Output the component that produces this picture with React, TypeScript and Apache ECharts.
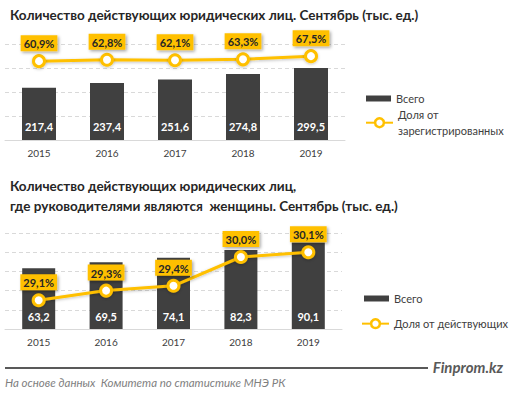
import React, { useEffect, useRef } from "react";
import * as echarts from "echarts";

const years = ["2015", "2016", "2017", "2018", "2019"];
const totalEntities = [217.4, 237.4, 251.6, 274.8, 299.5];
const shareRegistered = [60.9, 62.8, 62.1, 63.3, 67.5];
const womenLed = [63.2, 69.5, 74.1, 82.3, 90.1];
const shareActive = [29.1, 29.3, 29.4, 30.0, 30.1];

const title1 = "Количество действующих юридических лиц. Сентябрь (тыс. ед.)";
const title2 = "Количество действующих юридических лиц,\nгде руководителями являются  женщины. Сентябрь (тыс. ед.)";
const barName = "Всего";
const lineName1 = "Доля от зарегистрированных";
const lineName2 = "Доля от действующих";
const brand = "Finprom.kz";
const source = "На основе данных  Комитета по статистике МНЭ РК";

const FONT = "Lato, 'Noto Sans', sans-serif";
const GOLD = "#FFC000";
const DARK = "#404040";

const fmt = (v: number) => v.toFixed(1).replace(".", ",");

export default function App() {
  const ref = useRef<HTMLDivElement>(null);
  useEffect(() => {
    if (!ref.current) return;
    const chart = echarts.init(ref.current, null, { renderer: "svg" });

    const xAxisBase = (gridIndex: number) => ({
      type: "category" as const,
      gridIndex,
      data: years,
      axisTick: { show: false },
      axisLine: { lineStyle: { color: "#D9D9D9", width: 1 } },
      axisLabel: { color: DARK, fontSize: 10, fontFamily: FONT, margin: 8 },
    });
    const splitDashed = { show: true, lineStyle: { color: "#D9D9D9", type: [4, 3] as any, width: 1 } };

    const barLabel = (dist: number) => ({
      show: true,
      position: "insideBottom" as const,
      distance: dist,
      color: "#FFFFFF",
      fontWeight: "bold" as const,
      fontSize: 11,
      fontFamily: FONT,
      formatter: (p: any) => fmt(p.value),
    });
    const lineLabel = {
      show: true,
      position: "top" as const,
      distance: 3,
      color: "#262626",
      fontWeight: "bold" as const,
      fontSize: 11,
      fontFamily: FONT,
      backgroundColor: GOLD,
      padding: [3, 3, 2, 3],
      shadowColor: "rgba(0,0,0,0.35)",
      shadowBlur: 3,
      shadowOffsetX: 1.5,
      shadowOffsetY: 1.5,
      formatter: (p: any) => fmt(p.value) + "%",
    };
    const lineSeries = (name: string, data: number[], xi: number, yi: number) => ({
      name,
      type: "line" as const,
      xAxisIndex: xi,
      yAxisIndex: yi,
      data,
      symbol: "circle",
      symbolSize: 11,
      lineStyle: { color: GOLD, width: 3, shadowColor: "rgba(0,0,0,0.25)", shadowBlur: 3, shadowOffsetY: 1 },
      itemStyle: { color: "#FFFFFF", borderColor: GOLD, borderWidth: 3, shadowColor: "rgba(0,0,0,0.25)", shadowBlur: 3, shadowOffsetY: 1 },
      label: lineLabel,
      z: 3,
    });
    const legendText = { color: DARK, fontSize: 11, fontFamily: FONT };

    chart.setOption({
      animation: false,
      backgroundColor: "#FFFFFF",
      title: [
        {
          text: title1,
          left: 5,
          top: 3,
          textStyle: { fontSize: 13.5, fontWeight: "bold", color: "#262626", fontFamily: FONT },
        },
        {
          text: title2,
          left: 5,
          top: 171,
          textStyle: { fontSize: 13.5, fontWeight: "bold", color: "#262626", fontFamily: FONT, lineHeight: 20 },
        },
      ],
      grid: [
        { left: 5, top: 44, width: 340, height: 96 },
        { left: 5, top: 233, width: 337, height: 96 },
      ],
      xAxis: [xAxisBase(0), xAxisBase(1)],
      yAxis: [
        { type: "value", gridIndex: 0, min: 0, max: 400, interval: 100, axisLabel: { show: false }, axisLine: { show: false }, axisTick: { show: false }, splitLine: splitDashed },
        { type: "value", gridIndex: 0, min: -43, max: 83.5, show: false },
        { type: "value", gridIndex: 1, min: 0, max: 100, interval: 20, axisLabel: { show: false }, axisLine: { show: false }, axisTick: { show: false }, splitLine: splitDashed },
        { type: "value", gridIndex: 1, min: 28.5, max: 30.5, show: false },
      ],
      legend: [
        { data: [barName], left: 366, top: 93, padding: 0, itemWidth: 25, itemHeight: 6, icon: "rect", selectedMode: false, textStyle: legendText },
        {
          data: [lineName1], left: 365, top: 98.7, padding: 0, itemWidth: 27, itemHeight: 11, selectedMode: false,
          itemStyle: { borderWidth: 2.5 },
          formatter: () => "Доля от\nзарегистрированных",
          textStyle: { ...legendText, lineHeight: 16, padding: [16, 0, 0, 0] },
        },
        { data: [barName], left: 364, top: 293, padding: 0, itemWidth: 25, itemHeight: 6, icon: "rect", selectedMode: false, textStyle: legendText },
        { data: [lineName2], left: 361, top: 318, padding: 0, itemWidth: 27, itemHeight: 11, selectedMode: false, itemStyle: { borderWidth: 2.5 }, textStyle: legendText },
      ],
      series: [
        { name: barName, type: "bar", xAxisIndex: 0, yAxisIndex: 0, data: totalEntities, barWidth: 34, itemStyle: { color: DARK }, label: barLabel(8) },
        lineSeries(lineName1, shareRegistered, 0, 1),
        { name: barName, type: "bar", xAxisIndex: 1, yAxisIndex: 2, data: womenLed, barWidth: 33, itemStyle: { color: DARK }, label: barLabel(7) },
        lineSeries(lineName2, shareActive, 1, 3),
      ],
      graphic: [
        { type: "line", shape: { x1: 5, y1: 368, x2: 428, y2: 368 }, style: { stroke: "#595959", lineWidth: 2 } },
        {
          type: "text", x: 503, y: 367,
          style: { text: brand, align: "right", verticalAlign: "middle", fill: "#595959", font: `italic bold 15px ${FONT}` },
        },
        {
          type: "text", x: 5, y: 382,
          style: { text: source, align: "left", verticalAlign: "middle", fill: "#7F7F7F", font: `italic 11.5px ${FONT}` },
        },
      ],
    });
    return () => chart.dispose();
  }, []);
  return <div ref={ref} style={{ position: "fixed", left: 0, top: 0, width: 512, height: 394 }} />;
}
